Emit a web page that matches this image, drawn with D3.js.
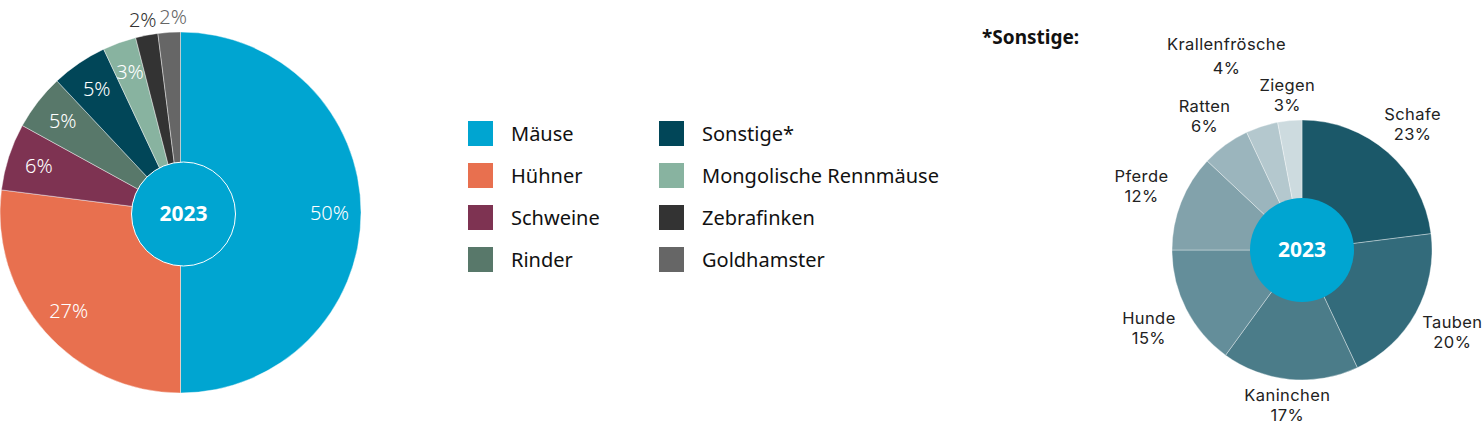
<!DOCTYPE html>
<html>
<head>
<meta charset="utf-8">
<script src="https://cdn.jsdelivr.net/npm/d3@7"></script>
<style>
  body { margin: 0; background: #fff; }
  svg text { font-family: "Noto Sans", sans-serif; }
  svg text.lbl { font-family: Inter, "Noto Sans", sans-serif; letter-spacing: 0.4px; }
</style>
</head>
<body>
<div id="chart"></div>
<script>
/* Tierarten 2023 – two donut charts + legend */

// main chart
const mainLabels = ["Mäuse", "Hühner", "Schweine", "Rinder", "Sonstige*", "Mongolische Rennmäuse", "Zebrafinken", "Goldhamster"];
const mainValues = [50, 27, 6, 5, 5, 3, 2, 2];
const mainColors = ["#00a5d1", "#e8704f", "#7e3352", "#58786a", "#014658", "#88b3a0", "#333333", "#666666"];

// "Sonstige" breakdown
const otherLabels = ["Schafe", "Tauben", "Kaninchen", "Hunde", "Pferde", "Ratten", "Krallenfrösche", "Ziegen"];
const otherValues = [23, 20, 17, 15, 12, 6, 4, 3];
const otherColors = ["#1b5869", "#336b7b", "#4b7c89", "#648e9a", "#82a2ab", "#9bb5bd", "#b4c8ce", "#cddbdf"];

const yearLabel = "2023";

const width = 1484, height = 425;

const svg = d3.select("#chart")
  .append("svg")
  .attr("width", width)
  .attr("height", height)
  .attr("viewBox", [0, 0, width, height]);

const pie = d3.pie().sort(null).value(d => d.value);

// ---------- left donut ----------
const main = mainLabels.map((l, i) => ({ label: l, value: mainValues[i], color: mainColors[i] }));
const r1 = 180.5, cx1 = 180.5, cy1 = 212.5;
const arc1 = d3.arc().innerRadius(0).outerRadius(r1);
const labelArc1 = d3.arc().innerRadius(149).outerRadius(149);
const outArc1 = d3.arc().innerRadius(196).outerRadius(196);

const g1 = svg.append("g").attr("transform", `translate(${cx1},${cy1})`);
const arcs1 = pie(main);

g1.selectAll("path")
  .data(arcs1)
  .join("path")
  .attr("d", arc1)
  .attr("fill", d => d.data.color)
  .attr("stroke", "rgba(255,255,255,0.6)")
  .attr("stroke-width", 0.7);

// centre disc sits a little off the pie centre, like in the original
const hole1 = g1.append("g").attr("transform", "translate(3,1.5)");
hole1.append("circle")
  .attr("r", 52)
  .attr("fill", mainColors[0])
  .attr("stroke", "#fff")
  .attr("stroke-width", 1);

hole1.append("text")
  .attr("text-anchor", "middle")
  .attr("dy", "0.35em")
  .attr("fill", "#fff")
  .attr("font-weight", "bold")
  .attr("font-size", 21)
  .text(yearLabel);

// small slices get their label outside, in the slice colour;
// the two outside labels are pushed apart a bit so they don't touch
let outIdx = 0;
g1.selectAll("text.pct")
  .data(arcs1)
  .join("text")
  .attr("class", "pct")
  .attr("transform", d => {
    const small = d.data.value < 3;
    let [x, y] = (small ? outArc1 : labelArc1).centroid(d);
    if (small) { x += outIdx === 0 ? -1 : 5; outIdx++; }
    return `translate(${x},${y})`;
  })
  .attr("text-anchor", "middle")
  .attr("dy", "0.35em")
  .attr("font-size", 20)
  .attr("font-weight", 300)
  .attr("fill", d => d.data.value < 3 ? d.data.color : "#fff")
  .text(d => d.data.value + "%");

// ---------- legend ----------
const legend = svg.append("g");
const legItems = legend.selectAll("g")
  .data(main)
  .join("g")
  .attr("transform", (d, i) => `translate(${468 + Math.floor(i / 4) * 191},${121 + (i % 4) * 42})`);

legItems.append("rect")
  .attr("width", 25)
  .attr("height", 25)
  .attr("fill", d => d.color);

legItems.append("text")
  .attr("x", 43)
  .attr("y", 12.5)
  .attr("dy", "0.35em")
  .attr("font-size", 20)
  .attr("fill", "#111")
  .text(d => d.label);

// ---------- right donut ----------
const other = otherLabels.map((l, i) => ({ label: l, value: otherValues[i], color: otherColors[i] }));
const r2 = 130, cx2 = 1302, cy2 = 250;
const arc2 = d3.arc().innerRadius(0).outerRadius(r2);
// labels further out on the sides (wider text), closer at top/bottom
const labelPos = d => {
  const a = (d.startAngle + d.endAngle) / 2;
  const r = 154 + 20 * Math.abs(Math.sin(a));
  return [r * Math.sin(a), -r * Math.cos(a)];
};
// label nudge for the crowded top: dx, dy, line gap
const nudge = { "Krallenfrösche": [-26, -41, 24] };

svg.append("text")
  .attr("x", 982)
  .attr("y", 44)
  .attr("font-size", 19)
  .attr("font-weight", "bold")
  .attr("fill", "#111")
  .text("*Sonstige:");

const g2 = svg.append("g").attr("transform", `translate(${cx2},${cy2})`);
const arcs2 = pie(other);

g2.selectAll("path")
  .data(arcs2)
  .join("path")
  .attr("d", arc2)
  .attr("fill", d => d.data.color)
  .attr("stroke", "rgba(255,255,255,0.5)")
  .attr("stroke-width", 0.7);

g2.append("circle")
  .attr("r", 52)
  .attr("fill", mainColors[0]);

g2.append("text")
  .attr("text-anchor", "middle")
  .attr("dy", "0.35em")
  .attr("fill", "#fff")
  .attr("font-weight", "bold")
  .attr("font-size", 21)
  .text(yearLabel);

// two-line label: name + percentage
const lbl = g2.selectAll("g.lbl")
  .data(arcs2)
  .join("g")
  .attr("class", "lbl")
  .attr("transform", d => {
    let [x, y] = labelPos(d);
    const n = nudge[d.data.label];
    if (n) { x += n[0]; y += n[1]; }
    return `translate(${x},${y})`;
  });

lbl.append("text")
  .attr("class", "lbl")
  .attr("text-anchor", "middle")
  .attr("font-size", 16.5)
  .attr("fill", "#222")
  .attr("y", d => nudge[d.data.label] ? -nudge[d.data.label][2] / 2 : -10)
  .attr("dy", "0.35em")
  .text(d => d.data.label);

lbl.append("text")
  .attr("class", "lbl")
  .attr("text-anchor", "middle")
  .attr("font-size", 16.5)
  .attr("fill", "#222")
  .attr("y", d => nudge[d.data.label] ? nudge[d.data.label][2] / 2 : 10)
  .attr("dy", "0.35em")
  .text(d => d.data.value + "%");
</script>
</body>
</html>
